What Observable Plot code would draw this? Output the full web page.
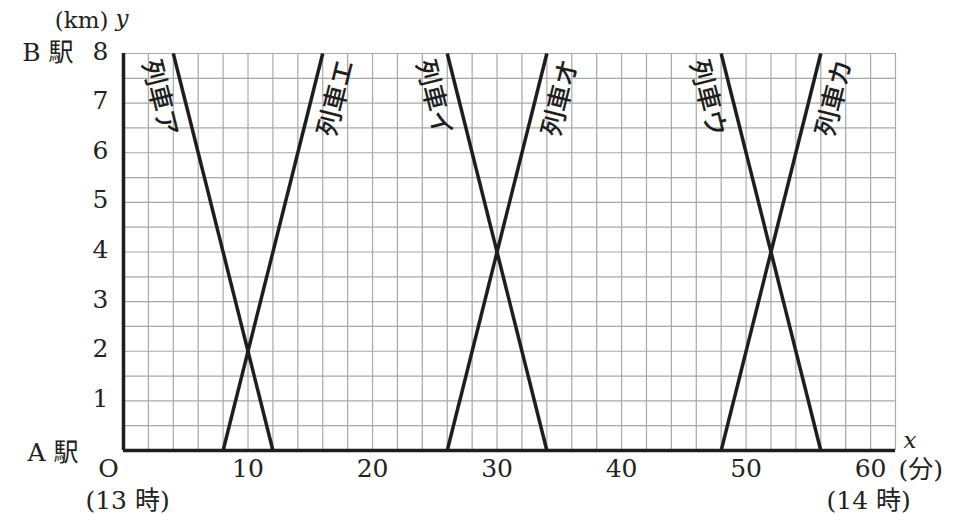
<!DOCTYPE html>
<html>
<head>
<meta charset="utf-8">
<script src="https://cdn.jsdelivr.net/npm/d3@7"></script>
<script src="https://cdn.jsdelivr.net/npm/@observablehq/plot@0.6"></script>
<style>
  html, body { margin: 0; padding: 0; background: #fff; }
</style>
</head>
<body>
<div id="chart"></div>
<script>
// ---- data ----
const trainNames = ["列車ア", "列車イ", "列車ウ", "列車エ", "列車オ", "列車カ"];
const departMin  = [4, 26, 48, 8, 26, 48];
const arriveMin  = [12, 34, 56, 16, 34, 56];
const fromKm     = [8, 8, 8, 0, 0, 0];
const toKm       = [0, 0, 0, 8, 8, 8];
const xTickValues = [10, 20, 30, 40, 50, 60];
const yTickValues = [1, 2, 3, 4, 5, 6, 7, 8];

const W = 959, H = 514;
const mL = 123, mR = 64, mT = 53, mB = 64;
const xMax = 62, yMax = 8;

const trains = trainNames.map((name, i) => ({
  name, x1: departMin[i], y1: fromKm[i], x2: arriveMin[i], y2: toKm[i]
}));

// label anchor along each line, near the top
const pxPerMin = (W - mL - mR) / xMax;
const pxPerKm = (H - mT - mB) / yMax;
const labelKm = 7.1;
const labels = trains.map(t => {
  const f = (labelKm - t.y1) / (t.y2 - t.y1);
  const down = t.y2 < t.y1;
  const ang = Math.atan2(Math.abs(t.y2 - t.y1) * pxPerKm, Math.abs(t.x2 - t.x1) * pxPerMin) * 180 / Math.PI;
  return {name: t.name, x: t.x1 + f * (t.x2 - t.x1), y: labelKm, down, ang};
});

const serif = "'DejaVu Serif', 'Noto Sans CJK JP', serif";
const fs = 25;
const ink = "#222";

const chart = Plot.plot({
  width: W, height: H,
  marginLeft: mL, marginRight: mR, marginTop: mT, marginBottom: mB,
  x: {domain: [0, xMax], axis: null},
  y: {domain: [0, yMax], axis: null},
  style: {fontFamily: serif, background: "#fff", color: ink, overflow: "visible"},
  marks: [
    // grid
    Plot.ruleX(d3.range(0, xMax + 0.01, 2), {y1: 0, y2: yMax, stroke: "#a8a8a8", strokeWidth: 1.2}),
    Plot.ruleY(d3.range(0, yMax + 0.01, 0.5), {x1: 0, x2: xMax, stroke: "#a8a8a8", strokeWidth: 1.2}),
    // axes
    Plot.ruleX([0], {y1: 0, y2: yMax, stroke: "#1e1e1e", strokeWidth: 3.5}),
    Plot.ruleY([0], {x1: 0, x2: xMax, stroke: "#1e1e1e", strokeWidth: 3.5}),
    // trains
    Plot.link(trains, {x1: "x1", y1: "y1", x2: "x2", y2: "y2", stroke: "#1e1e1e", strokeWidth: 3.5}),
    // train labels
    Plot.text(labels.filter(d => d.down), {
      x: "x", y: "y", text: "name", dx: -25, rotate: labels[0].ang,
      fontFamily: "'Noto Sans CJK JP', sans-serif", fontSize: 26, fontWeight: 500, fill: "#1e1e1e",
      textAnchor: "middle", lineAnchor: "middle"
    }),
    Plot.text(labels.filter(d => !d.down), {
      x: "x", y: "y", text: "name", dx: 25, rotate: -labels[0].ang,
      fontFamily: "'Noto Sans CJK JP', sans-serif", fontSize: 26, fontWeight: 500, fill: "#1e1e1e",
      textAnchor: "middle", lineAnchor: "middle"
    }),
    // tick labels
    Plot.text(yTickValues, {x: 0, y: d => d, text: d => String(d), dx: -15, dy: -2,
      textAnchor: "end", lineAnchor: "middle", fontSize: fs, fill: ink}),
    Plot.text(xTickValues, {x: d => d, y: 0, text: d => String(d), dy: 18,
      textAnchor: "middle", lineAnchor: "middle", fontSize: fs, fill: ink}),
    Plot.text(["O"], {x: 0, y: 0, text: d => d, dx: -15, dy: 18,
      textAnchor: "middle", lineAnchor: "middle", fontSize: fs, fill: ink}),
    // station names & units
    Plot.text(["B 駅"], {x: 0, y: yMax, text: d => d, dx: -50, dy: -1,
      textAnchor: "end", lineAnchor: "middle", fontSize: fs, fill: ink}),
    Plot.text(["A 駅"], {x: 0, y: 0, text: d => d, dx: -45, dy: 2,
      textAnchor: "end", lineAnchor: "middle", fontSize: fs, fill: ink}),
    Plot.text(["(km)"], {x: 0, y: yMax, text: d => d, dx: -15, dy: -33,
      textAnchor: "end", lineAnchor: "middle", fontSize: 23, fill: ink}),
    Plot.text(["y"], {x: 0, y: yMax, text: d => d, dx: -8, dy: -35,
      textAnchor: "start", lineAnchor: "middle", fontSize: 23, fontStyle: "italic", fill: ink}),
    Plot.text(["x"], {x: xMax, y: 0, text: d => d, dx: 8, dy: -10,
      textAnchor: "start", lineAnchor: "middle", fontSize: 23, fontStyle: "italic", fill: ink}),
    Plot.text(["(分)"], {x: xMax, y: 0, text: d => d, dx: 3, dy: 19,
      textAnchor: "start", lineAnchor: "middle", fontSize: fs, fill: ink}),
    Plot.text(["(13 時)"], {x: 0, y: 0, text: d => d, dx: 4, dy: 50,
      textAnchor: "middle", lineAnchor: "middle", fontSize: fs, fill: ink}),
    Plot.text(["(14 時)"], {x: 60, y: 0, text: d => d, dx: -2, dy: 50,
      textAnchor: "middle", lineAnchor: "middle", fontSize: fs, fill: ink})
  ]
});

document.getElementById("chart").appendChild(chart);
</script>
</body>
</html>
